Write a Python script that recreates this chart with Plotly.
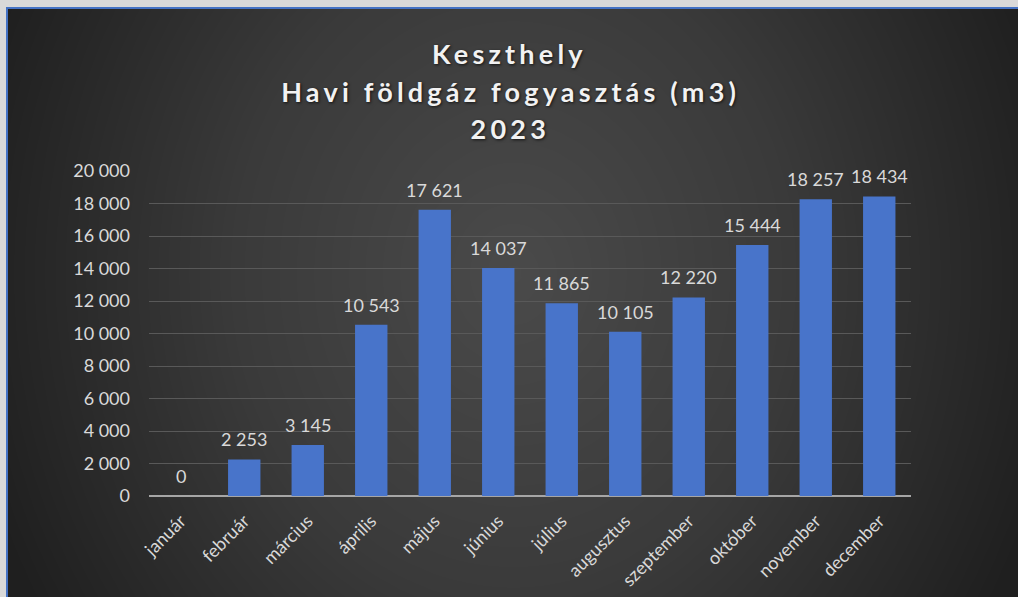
import numpy as np
import plotly.graph_objects as go

months = ["január", "február", "március", "április", "május", "június",
          "július", "augusztus", "szeptember", "október", "november", "december"]
values = [0, 2253, 3145, 10543, 17621, 14037, 11865, 10105, 12220, 15444, 18257, 18434]
title_lines = ["Keszthely", "Havi földgáz fogyasztás (m3)", "2023"]
y_ticks = list(range(0, 20001, 2000))

W, H = 1018, 597

def fmt(v):
    return f"{v:,}".replace(",", " ")

fig = go.Figure()

# background radial gradient (decorative) on the first subplot so it is drawn underneath
gx = np.linspace(0, 1, 120)
gy = np.linspace(0, 1, 80)
GX, GY = np.meshgrid(gx, gy)
d = np.sqrt(((GX - 0.5) / 0.55) ** 2 + ((GY - 0.55) / 1.1) ** 2)
fig.add_trace(go.Heatmap(
    x=gx, y=gy, z=d, xaxis="x", yaxis="y", showscale=False, hoverinfo="skip",
    zsmooth="best", zmin=0, zmax=1,
    colorscale=[[0, "#4a4a4a"], [0.5, "#3a3a3a"], [1, "#1f1f1f"]],
))

fig.add_trace(go.Bar(
    x=months, y=values, xaxis="x2", yaxis="y2",
    marker=dict(color="#4874ca", line=dict(width=0)),
    hoverinfo="x+y",
))

# value labels above the bars
for m, v in zip(months, values):
    fig.add_annotation(x=m, y=v, xref="x2", yref="y2", text=fmt(v), showarrow=False,
                       yanchor="bottom", xanchor="center", yshift=7,
                       font=dict(family="Lato", size=18, color="#d9d9d9"))

fig.update_layout(
    width=W, height=H, margin=dict(l=0, r=0, t=0, b=0, pad=0, autoexpand=False),
    paper_bgcolor="#d9d9d9", plot_bgcolor="rgba(0,0,0,0)",
    showlegend=False, bargap=0.49, separators=". ",
    font=dict(family="Lato", color="#d9d9d9"),
    xaxis=dict(domain=[8 / W, 1], range=[0, 1], visible=False, fixedrange=True,
               anchor="y", automargin=False),
    yaxis=dict(domain=[0, 1 - 9 / H], range=[0, 1], visible=False, fixedrange=True,
               anchor="x", automargin=False),
    xaxis2=dict(domain=[149 / W, 911 / W], tickangle=-45, showgrid=False,
                tickfont=dict(family="Lato", size=18, color="#d9d9d9"),
                showline=False, ticks="", anchor="y2", automargin=False,
                ticklabelstandoff=10),
    yaxis2=dict(domain=[1 - 496 / H, 1 - 171 / H], range=[0, 20000],
                tickvals=y_ticks, ticktext=[fmt(v) for v in y_ticks],
                tickfont=dict(family="Lato", size=18, color="#d9d9d9"),
                gridcolor="#595959", gridwidth=1,
                zeroline=True, zerolinecolor="#a6a6a6", zerolinewidth=2,
                ticklabelstandoff=18, anchor="x2", automargin=False),
)

for line, ypx in zip(title_lines, [54, 91, 129]):
    fig.add_annotation(text=f"<b>{line}</b>", x=510 / W, y=1 - ypx / H,
                       xref="paper", yref="paper", showarrow=False,
                       font=dict(family="Lato", size=27, color="#f2f2f2",
                                 shadow="1px 1px 3px rgba(0,0,0,0.7)"),
                       xanchor="center", yanchor="middle")

# light outer frame (top and left) and blue border line
fig.add_shape(type="rect", xref="paper", yref="paper", x0=0, x1=1, y0=1 - 8 / H, y1=1,
              line=dict(width=0), fillcolor="#d9d9d9", layer="above")
fig.add_shape(type="rect", xref="paper", yref="paper", x0=0, x1=7 / W, y0=0, y1=1,
              line=dict(width=0), fillcolor="#d9d9d9", layer="above")
fig.add_shape(type="rect", xref="paper", yref="paper",
              x0=7 / W, x1=1.05, y0=-0.05, y1=1 - 8 / H,
              line=dict(color="#4472c4", width=2), fillcolor="rgba(0,0,0,0)", layer="above")

post = """
document.body.style.margin='0';
document.body.style.overflow='hidden';
document.documentElement.style.background='#d9d9d9';
var st=document.createElement('style');
st.textContent='.annotation-text tspan[style*="bold"]{letter-spacing:4.2px;}';
document.head.appendChild(st);
"""
fig.write_html("out.html", config={"displayModeBar": False}, post_script=post)
